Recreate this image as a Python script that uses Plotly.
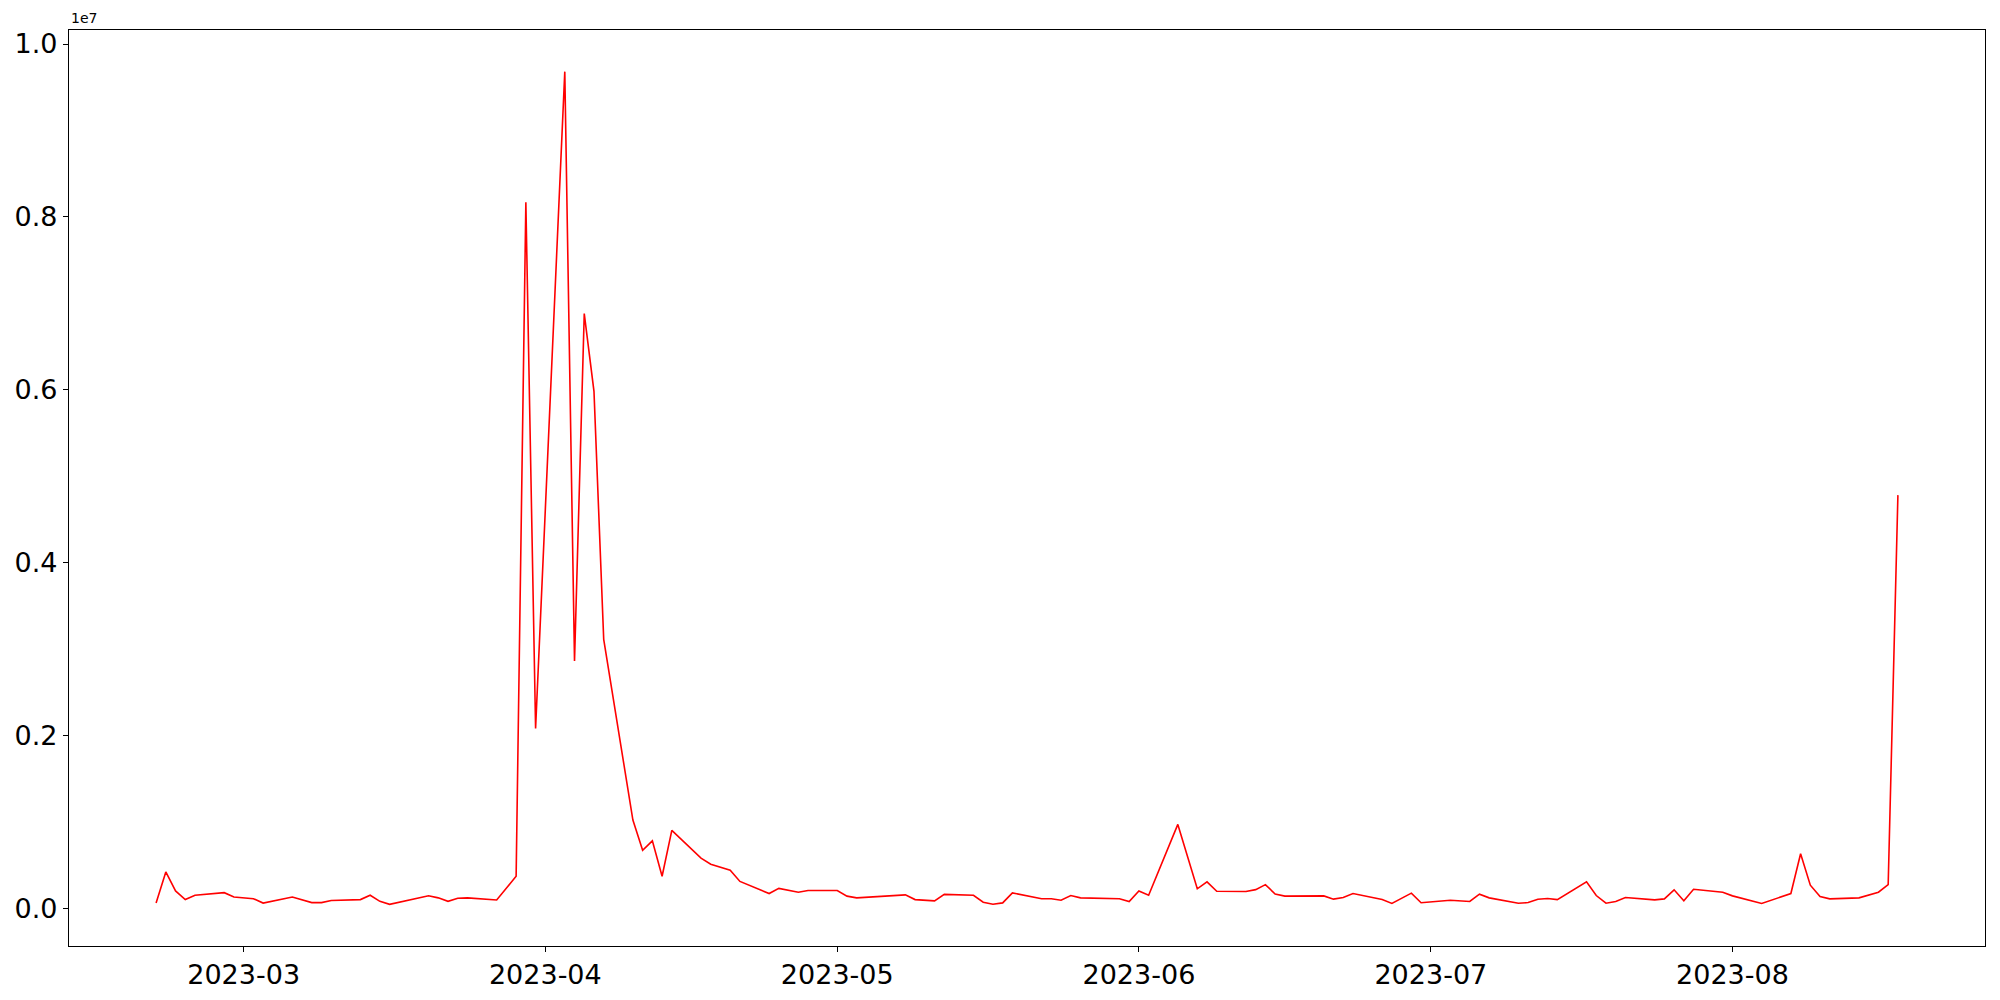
import plotly.graph_objects as go

dates = [
    "2023-02-20", "2023-02-21", "2023-02-22", "2023-02-23", "2023-02-24",
    "2023-02-27", "2023-02-28", "2023-03-02", "2023-03-03",
    "2023-03-06", "2023-03-08", "2023-03-09", "2023-03-10",
    "2023-03-13", "2023-03-14", "2023-03-15", "2023-03-16",
    "2023-03-20", "2023-03-21", "2023-03-22", "2023-03-23", "2023-03-24",
    "2023-03-27", "2023-03-28", "2023-03-29", "2023-03-30", "2023-03-31",
    "2023-04-03", "2023-04-04", "2023-04-05", "2023-04-06", "2023-04-07",
    "2023-04-10", "2023-04-11", "2023-04-12", "2023-04-13", "2023-04-14",
    "2023-04-17", "2023-04-18", "2023-04-20", "2023-04-21",
    "2023-04-24", "2023-04-25", "2023-04-27", "2023-04-28",
    "2023-05-01", "2023-05-02", "2023-05-03",
    "2023-05-08", "2023-05-09", "2023-05-11", "2023-05-12",
    "2023-05-15", "2023-05-16", "2023-05-17", "2023-05-18", "2023-05-19",
    "2023-05-22", "2023-05-23", "2023-05-24", "2023-05-25", "2023-05-26",
    "2023-05-30", "2023-05-31", "2023-06-01", "2023-06-02",
    "2023-06-05", "2023-06-07", "2023-06-08", "2023-06-09",
    "2023-06-12", "2023-06-13", "2023-06-14", "2023-06-15", "2023-06-16",
    "2023-06-20", "2023-06-21", "2023-06-22", "2023-06-23",
    "2023-06-26", "2023-06-27", "2023-06-29", "2023-06-30",
    "2023-07-03", "2023-07-05", "2023-07-06", "2023-07-07",
    "2023-07-10", "2023-07-11", "2023-07-12", "2023-07-13", "2023-07-14",
    "2023-07-17", "2023-07-18", "2023-07-19", "2023-07-20", "2023-07-21",
    "2023-07-24", "2023-07-25", "2023-07-26", "2023-07-27", "2023-07-28",
    "2023-07-31", "2023-08-01", "2023-08-02", "2023-08-04",
    "2023-08-07", "2023-08-08", "2023-08-09", "2023-08-10", "2023-08-11",
    "2023-08-14", "2023-08-16", "2023-08-17", "2023-08-18",
]

values = [
    60000, 420000, 200000, 100000, 150000,
    180000, 130000, 110000, 60000,
    130000, 65000, 65000, 90000,
    100000, 150000, 80000, 45000,
    145000, 120000, 80000, 115000, 120000,
    95000, 230000, 370000, 8170000, 2080000,
    9680000, 2860000, 6880000, 5980000, 3110000,
    1020000, 670000, 780000, 370000, 900000,
    580000, 510000, 440000, 310000,
    170000, 230000, 185000, 205000,
    205000, 140000, 120000,
    155000, 100000, 85000, 160000,
    150000, 70000, 47000, 62000, 178000,
    110000, 110000, 93000, 147000, 120000,
    110000, 77000, 200000, 150000,
    970000, 225000, 305000, 197000,
    193000, 215000, 273000, 165000, 140000,
    143000, 105000, 125000, 170000,
    100000, 55000, 175000, 63000,
    93000, 78000, 163000, 120000,
    58000, 66000, 104000, 112000, 100000,
    305000, 147000, 58000, 78000, 124000,
    97000, 108000, 213000, 86000, 220000,
    185000, 143000, 116000, 55000,
    170000, 630000, 267000, 136000, 108000,
    120000, 185000, 274000, 4780000,
]

x_tick_vals = ["2023-03-01", "2023-04-01", "2023-05-01", "2023-06-01", "2023-07-01", "2023-08-01"]
x_tick_text = ["2023-03", "2023-04", "2023-05", "2023-06", "2023-07", "2023-08"]
y_tick_vals = [0, 2000000, 4000000, 6000000, 8000000, 10000000]
y_tick_text = ["0.0", "0.2", "0.4", "0.6", "0.8", "1.0"]

FONT = "DejaVu Sans"

fig = go.Figure()
fig.add_trace(go.Scatter(
    x=dates, y=values, mode="lines",
    line=dict(color="#ff0000", width=1.6),
    showlegend=False,
))

axis_common = dict(
    showline=True, linecolor="black", linewidth=1.1, mirror=True,
    ticks="outside", ticklen=5, tickwidth=1.1, tickcolor="black",
    showgrid=False, zeroline=False, automargin=False,
    tickfont=dict(family=FONT, size=27, color="black"),
)

# page body adds an 8px margin, so the figure is 16px smaller than the window
fig.update_layout(
    width=1984, height=984,
    margin=dict(l=61, r=7, t=22, b=46, autoexpand=False),
    paper_bgcolor="white", plot_bgcolor="white",
    xaxis=dict(
        type="date",
        range=["2023-02-11 01:12", "2023-08-26 22:48"],
        tickmode="array", tickvals=x_tick_vals, ticktext=x_tick_text,
        **axis_common,
    ),
    yaxis=dict(
        range=[-437000, 10162000],
        tickmode="array", tickvals=y_tick_vals, ticktext=y_tick_text,
        **axis_common,
    ),
    annotations=[dict(
        text="1e7", xref="paper", yref="paper", x=0, y=1,
        xanchor="left", yanchor="bottom", yshift=2, showarrow=False,
        font=dict(family=FONT, size=14, color="black"),
    )],
)

fig.write_html("out.html")
